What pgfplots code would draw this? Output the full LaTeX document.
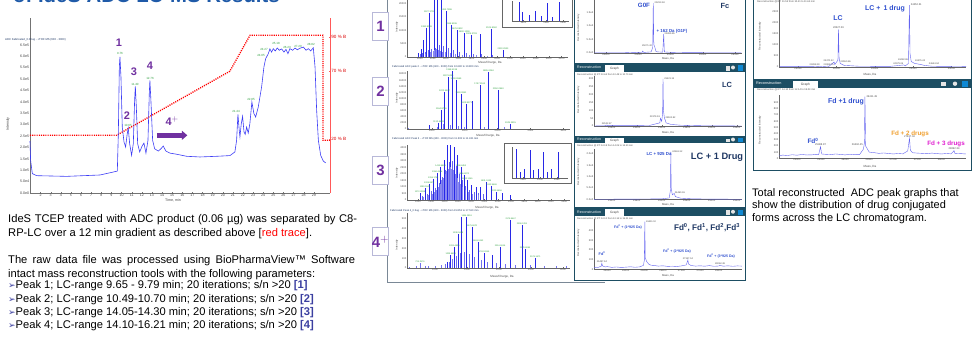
\documentclass[border=0pt]{standalone}
\usepackage{fontspec}
\setmainfont{Liberation Sans}
\newfontfamily\dejavu{DejaVu Sans}
\usepackage{pgfplots}
\pgfplotsset{compat=1.18}
\usetikzlibrary{arrows.meta}
\definecolor{trace}{HTML}{3C3CF5}
\definecolor{purp}{HTML}{7030A0}
\definecolor{grn}{HTML}{2E9E3E}
\definecolor{tealb}{HTML}{1D4E63}
\definecolor{navy}{HTML}{1F3864}
\definecolor{lblue}{HTML}{2F4FCF}
\definecolor{framec}{HTML}{7A8896}
\definecolor{titleblue}{HTML}{1F5AA8}
\definecolor{bulletc}{HTML}{3B3FA0}
\definecolor{orangec}{HTML}{F0A030}
\definecolor{magc}{HTML}{E020D0}
\definecolor{specblue}{HTML}{2828E6}
\definecolor{recblue}{HTML}{6464F0}
\definecolor{boxc}{HTML}{B8B8D8}
\newcommand{\fs}[1]{\fontsize{#1}{#1}\selectfont}
\newcommand{\glabs}[2]{\foreach \mz/\hh/\lb in {#2}{\edef\tmp{\noexpand\node[anchor=south, font=\noexpand\fs{#1}, text=grn, inner sep=0.4bp] at (axis cs:\mz,\hh) {\lb};}\tmp}}
\pgfplotsset{
 spec/.style={scale only axis, axis x line*=bottom, axis y line*=left, ymin=0,
  axis line style={black!60, line width=0.3bp}, tick style={black!60, line width=0.3bp},
  major tick length=0.8bp, tick label style={font=\fs{2.6}, text=black!70, inner sep=0.6bp},
  /pgf/number format/1000 sep={}, /pgf/number format/assume math mode=true,
  scaled ticks=false, clip mode=individual},
 stick/.style={ycomb, color=specblue, line width=0.45bp, no marks},
 rec/.style={sharp plot, color=recblue, line width=0.4bp, no marks},
}
\begin{document}
\begin{tikzpicture}
\path[use as bounding box] (0,0) rectangle (976bp,-339bp);
% ---------------- background frames -----------------
\begin{scope}[x=1bp,y=-1bp]
\node[anchor=base west, font=\fs{20.4}\bfseries, text=titleblue, inner sep=0] at (13,2.6) {of IdeS ADC LC-MS Results};
\draw[framec, line width=0.7bp] (387,-2) -- (387,282) -- (605,282);
\draw[framec, line width=0.7bp] (744,-2) -- (744,262);
\foreach \yy/\lb in {12/1,77/2,156/3,227/{4$^{+}$}}{
  \draw[boxc, fill=white, line width=0.8bp] (372,\yy) rectangle (388,\yy+28);
  \node[font=\fs{15}\bfseries, text=purp] at (380.5,\yy+14.5) {\lb};
}
\draw[black!60, fill=white, line width=0.4bp] (502,-2) rectangle (572,27);
\draw[black!60, fill=white, line width=0.4bp] (504,143) rectangle (571,183);
\node[anchor=west, font=\fs{2.6}, text=navy, inner sep=0] at (392,67) {Fabricated ADC peak 2 - +TOF MS (600 - 3000) from 10.690 to 10.800 min};
\node[anchor=west, font=\fs{2.6}, text=navy, inner sep=0] at (392,139) {Fabricated ADC Peak 3 - +TOF MS (600 - 3000) from 11.303 to 11.431 min};
\node[anchor=west, font=\fs{2.6}, text=navy, inner sep=0] at (390,211) {Fabricated Peak 4\_0.5ug - +TOF MS (600 - 3000) from 15.853 to 17.510 min};
\foreach \yy in {27,98,173,245}{\node[rotate=90, font=\fs{2.8}, text=black!70] at (397,\yy) {Intensity};}
\node[font=\fs{3}, text=black!70] at (490,63) {Mass/Charge, Da};
\node[font=\fs{3}, text=black!70] at (488,136) {Mass/Charge, Da};
\node[font=\fs{3}, text=black!70] at (487,208) {Mass/Charge, Da};
\node[font=\fs{3}, text=black!70] at (502,276.5) {Mass/Charge, Da};
\foreach \ya/\yb in {-3/63,63/136,136/207.5,207.5/280}{
  \draw[tealb, fill=white, line width=0.8bp] (574,\ya) rectangle (745,\yb);
}
\foreach \ya/\yb/\rt in {63/72/{10.64 from 10.48 to 10.70 min},136/143/{14.18 from 14.05 to 14.30 min},207.5/216/{14.10 from 12.14 to 15.21 min}}{
  \fill[tealb] (574,\ya) rectangle (745,\yb);
  \node[anchor=west, font=\fs{3.6}, text=white, inner sep=0] at (577,{(\ya+\yb)/2}) {Reconstruction};
  \fill[white] (605,\ya+1.5) rectangle (624,\yb);
  \node[font=\fs{3.2}, text=black!70] at (614.5,{(\ya+\yb)/2+0.7}) {Graph};
  \fill[white!80!gray] (726,\ya+2.5) rectangle (730,\yb-1.5);
  \fill[white!80!gray] (733,{(\ya+\yb)/2}) circle (2bp);
  \fill[cyan!70!blue] (738,\ya+2) rectangle (743,\yb-1);
  \node[anchor=west, font=\fs{2.4}, text=black!70, inner sep=0] at (577,\yb+2.3) {Reconstruction @ RT: \rt};
}
\foreach \yy in {28,100,172,243}{\node[rotate=90, font=\fs{2.6}, text=black!70] at (578.5,\yy) {Reconstructed Intensity};}
\foreach \yy in {59,133,205,276}{\node[font=\fs{2.8}, text=black!70] at (668,\yy) {Mass, Da};}
\draw[tealb, fill=white, line width=0.8bp] (753,-3) rectangle (971,79);
\draw[tealb, fill=white, line width=0.8bp] (753,79) rectangle (971,170);
\fill[tealb] (753,79.5) rectangle (971,87.5);
\node[anchor=west, font=\fs{3.8}, text=white, inner sep=0] at (756,83.5) {Reconstruction};
\fill[white] (793,81) rectangle (818,87.5);
\node[font=\fs{3.3}, text=black!70] at (805.5,84.5) {Graph};
\fill[white!80!gray] (941,81.5) rectangle (946,86);
\fill[white!80!gray] (955,83.7) circle (2.2bp);
\fill[cyan!70!blue] (962,81) rectangle (968,87);
\node[anchor=west, font=\fs{2.5}, text=black!70, inner sep=0] at (757,90) {Reconstruction @ RT: 14.10 from 12.14 to 15.03 min};
\node[anchor=west, font=\fs{2.5}, text=black!70, inner sep=0] at (757,1.5) {Reconstruction @ RT: 11.53 from 10.41 to 11.62 min};
\node[rotate=90, font=\fs{2.7}, text=black!70] at (760,36) {Reconstructed Intensity};
\node[rotate=90, font=\fs{2.7}, text=black!70] at (760,130) {Reconstructed Intensity};
\node[font=\fs{3}, text=black!70] at (870,75) {Mass, Da};
\node[font=\fs{3}, text=black!70] at (870,167) {Mass, Da};
\end{scope}

% ---------------- chromatogram -----------------
\begin{axis}[at={(30bp,-193bp)}, anchor=south west, scale only axis, width=300bp, height=175bp,
 xmin=0.95, xmax=30.6, ymin=0, ymax=767500,
 axis x line*=bottom, axis y line*=left, scaled ticks=false,
 axis line style={black!55, line width=0.4bp}, tick style={black!55, line width=0.3bp}, major tick length=1.3bp,
 xtick={2,...,29},
 ytick={0,50000,100000,150000,200000,250000,300000,350000,400000,450000,500000,550000,600000,650000},
 yticklabels={0.0e0,5.0e4,1.0e5,1.5e5,2.0e5,2.5e5,3.0e5,3.5e5,4.0e5,4.5e5,5.0e5,5.5e5,6.0e5,6.5e5},
 tick label style={font=\fs{3.6}, text=black!75, inner sep=0.8bp},
 /pgf/number format/assume math mode=true, clip=false]
\addplot[red, line width=1.3bp, dash pattern=on 1.1bp off 1.1bp] coordinates {
(0.95,253000)(9.5,253000)(20.7,534000)(22.7,692000)(29.9,692000)(29.9,231000)(30.6,231000)};
\addplot[trace, line width=0.6bp] coordinates {
(0.95,228000)(1.01,143000)(1.18,85000)(1.61,76000)(4.57,73000)(7.87,79000)(9.18,92000)(9.58,96000)
(9.68,260000)(9.78,553000)(9.84,597000)(9.94,509000)(10.07,289000)(10.24,224000)(10.4,202000)
(10.56,260000)(10.66,285000)(10.8,216000)(10.99,165000)(11.16,216000)(11.29,406000)(11.36,468000)
(11.46,377000)(11.59,216000)(11.79,180000)(12.02,205000)(12.21,219000)(12.41,175000)(12.61,231000)
(12.74,436000)(12.8,494000)(12.9,406000)(13.07,231000)(13.27,194000)(13.63,184000)(13.89,194000)
(14.12,206000)(14.38,184000)(14.78,175000)(15.44,170000)(16.43,161000)(17.75,158000)(19.39,161000)
(20.71,164000)(21.2,180000)(21.37,231000)(21.5,345000)(21.63,275000)(21.7,246000)(21.83,304000)
(21.96,336000)(22.1,268000)(22.22,257000)(22.36,289000)(22.52,263000)(22.68,304000)(22.88,399000)
(23.08,348000)(23.25,333000)(23.51,377000)(23.84,465000)(24.07,553000)(24.24,589000)(24.5,611000)
(24.66,632000)(24.83,618000)(24.99,633000)(25.19,623000)(25.39,636000)(25.59,626000)(25.82,632000)
(26.05,618000)(26.25,630000)(26.44,611000)(26.64,633000)(26.91,626000)(27.14,636000)(27.37,628000)
(27.63,635000)(27.97,640000)(28.23,626000)(28.46,633000)(28.69,623000)(28.95,637000)(29.12,553000)
(29.28,363000)(29.45,231000)(29.68,165000)(29.94,140000)(30.17,132000)};
\node[font=\fs{11}\bfseries, text=purp] at (axis cs:9.74,657000) {1};
\node[font=\fs{11}\bfseries, text=purp] at (axis cs:10.53,341000) {2};
\node[font=\fs{11}\bfseries, text=purp] at (axis cs:11.23,534000) {3};
\node[font=\fs{11}\bfseries, text=purp] at (axis cs:12.81,560000) {4};
\node[font=\fs{11}\bfseries, text=purp] at (axis cs:15.0,314000) {4$^{+}$};
\draw[purp, line width=4.5bp, -{Triangle[length=5.5bp,width=9bp]}] (axis cs:13.5,253000) -- (axis cs:16.5,253000);
\end{axis}
\begin{axis}[at={(30bp,-193bp)}, anchor=south west, scale only axis, width=300bp, height=175bp,
 xmin=0.95, xmax=30.6, ymin=0, ymax=767500, axis x line=none, axis y line*=right, scaled ticks=false,
 axis line style={red!65, line width=0.6bp}, tick style={red!65, line width=0.4bp}, major tick length=1.5bp,
 ytick={236000,534000,683000}, yticklabels={20 \% B,70 \% B,90 \% B},
 tick label style={font=\fs{4.6}, text=red!85!black, inner sep=1.2bp}]
\addplot[draw=none] coordinates {(5,1000)};
\end{axis}
\begin{scope}[x=1bp,y=-1bp]
\node[anchor=west, font=\fs{2.8}, text=navy, inner sep=0] at (5,40) {ADC Fabricated\_0.06ug - +TOF MS (600 - 3000)};
\node[rotate=90, font=\fs{3.6}, text=black!75] at (8,124) {Intensity};
\node[font=\fs{3.6}, text=black!75] at (173,200.5) {Time, min};
\foreach \xx/\yy/\lb in {120/53/9.76,128/125/10.65,135/84/11.40,150/78/12.76,236/111/21.44,251/99/22.85,261/55/24.05,264/49/24.27,276/43/25.18,287/47/26.23,298/46/27.20,311/44/28.82}{
  \node[font=\fs{3}, text=grn, inner sep=0] at (\xx,\yy) {\lb};}
\node[anchor=base west, font=\fs{11.2}, inner sep=0] at (8,222) {\makebox[349bp][s]{IdeS TCEP treated with ADC product (0.06 µg) was separated by C8-}};
\node[anchor=base west, font=\fs{11.2}, inner sep=0] at (8,236) {RP-LC over a 12 min gradient as described above [\textcolor{red}{red trace}].};
\node[anchor=base west, font=\fs{11.2}, inner sep=0] at (8,263.7) {\makebox[347bp][s]{The raw data file was processed using BioPharmaView™ Software}};
\node[anchor=base west, font=\fs{11.2}, inner sep=0] at (8,277.7) {intact mass reconstruction tools with the following parameters:};
\foreach \yy/\lb/\nn in {288.7/{Peak 1; LC-range 9.65 - 9.79 min; 20 iterations; s/n >20}/1,
  302/{Peak 2; LC-range 10.49-10.70 min; 20 iterations; s/n >20}/2,
  315.4/{Peak 3; LC-range 14.05-14.30 min; 20 iterations; s/n >20}/3,
  328.7/{Peak 4; LC-range 14.10-16.21 min; 20 iterations; s/n >20}/4}{
  \node[anchor=base west, font=\fs{11.2}, inner sep=0] at (8,\yy) {{\dejavu\fs{9}\color{bulletc}➢}\lb{} \textbf{\color{bulletc}[\nn]}};}
\node[anchor=base west, font=\fs{11}, inner sep=0] at (752,196.5) {Total reconstructed\ \ ADC peak graphs that};
\node[anchor=base west, font=\fs{11}, inner sep=0] at (752,208.8) {show the distribution of drug conjugated};
\node[anchor=base west, font=\fs{11}, inner sep=0] at (752,221.1) {forms across the LC chromatogram.};
\end{scope}

% ---------------- middle column spectra -----------------
\begin{axis}[spec, at={(407bp,-57bp)}, anchor=south west, width=161bp, height=61.2bp,
 xmin=800, xmax=3300, ymax=23000, xtick={1000,1200,...,3200}, ytick={0,5000,10000,15000,20000}]
\addplot[stick] coordinates {(974,1500)(1016,3000)(1052,6500)(1103,10900)(1145,16500)(1217,23000)(1274,23000)(1331,23000)(1413,17100)(1491,12100)(1579,10250)(1688,9000)(1801,8400)(1940,8750)(2111,10500)(2292,2750)};
\addplot[stick, color=specblue!70] coordinates {(1000,1000)(1035,1500)(1080,2000)(1125,2500)(1180,3000)(1245,3500)(1300,4500)(1360,4000)(1440,3500)(1520,2800)(1610,2000)(1720,1500)(1830,1200)(1960,1000)(2130,800)};
\addplot[stick, color=specblue!55] coordinates {(1090,1200)(1160,1800)(1200,2200)(1230,2800)(1260,3000)(1290,2600)(1320,2400)(1345,2000)(1390,1800)(1470,1500)(1555,1200)(1650,900)(1760,700)(1880,600)(2050,500)};
\glabs{2.3}{1103/10900/1380.8098,1145/16500/1327.3702,1413/17100/1493.7286,1491/12100/1588.9336,1579/10250/1676.0832,1688/9000/1800.1238,1801/8400/1909.3793,2111/10500/2105.8062,2292/2750/2330.2933}
\end{axis}
\begin{axis}[spec, at={(512bp,-21bp)}, anchor=south west, width=57bp, height=20bp,
 xmin=1300, xmax=1400, ymax=1, xtick={1320,1360,1390}, ytick=\empty]
\addplot[stick] coordinates {(1312,0.95)(1318,0.45)(1330,0.3)(1341,0.5)(1352,0.25)(1362,0.9)(1370,0.2)(1383,0.95)};
\end{axis}

\begin{axis}[spec, at={(407bp,-129bp)}, anchor=south west, width=163bp, height=58bp,
 xmin=625, xmax=3100, ymax=19000, xtick={1000,1500,2000,2500,3000}, ytick={0,2000,...,18000}]
\addplot[stick] coordinates {(959,1300)(1105,2000)(1146,6200)(1195,12200)(1250,16900)(1305,19000)(1370,16000)(1446,11350)(1530,8100)(1620,9260)(1731,14400)(1860,18750)(2011,12760)(2197,1640)};
\addplot[stick, color=specblue!60] coordinates {(650,300)(1080,800)(1170,1500)(1280,1200)(1400,900)(1500,700)(1800,600)(2100,500)};
\glabs{2.3}{1105/2000/1112.6683,1146/6200/1164.8746,1195/12200/1222.5637,1250/16900/1287.6081,1305/19000/1358.6138,1370/16000/1438.0969,1446/11350/1528.0951,1530/8100/1629.9273,1731/14400/1747.3163,1860/18750/1885.0064,2011/12760/2050.0963,2197/1640/2245.3815}
\end{axis}

\begin{axis}[spec, at={(407bp,-200bp)}, anchor=south west, width=163bp, height=55bp,
 xmin=835, xmax=3286, ymax=4230, xtick={1000,1200,...,3200}, ytick={0,500,...,4000}]
\addplot[stick] coordinates {(1030,540)(1105,920)(1170,1230)(1230,1590)(1290,2050)(1341,2560)(1391,3080)(1441,4400)(1491,4300)(1541,4100)(1597,3460)(1647,2560)(1692,1920)(1742,1540)(1807,1150)(1882,1020)(1942,1000)(2023,1410)(2108,1080)(2183,640)(2273,540)(2383,420)};
\addplot[stick, color=specblue!70] coordinates {(1060,300)(1135,500)(1200,700)(1260,900)(1315,1300)(1366,1800)(1416,2300)(1466,2900)(1516,3000)(1568,2600)(1622,2000)(1670,1500)(1717,1100)(1775,800)(1845,600)(1912,550)(1980,500)};
\addplot[stick, color=specblue!55] coordinates {(1085,200)(1150,350)(1215,500)(1245,650)(1275,800)(1305,1000)(1328,1200)(1354,1500)(1378,1700)(1404,2000)(1428,2200)(1454,2400)(1478,2500)(1504,2400)(1528,2300)(1555,2000)(1583,1700)(1610,1400)(1635,1200)(1658,1000)(1705,800)(1757,600)(1820,450)(1900,380)};
\glabs{2.2}{1030/540/1272.8098,1105/920/1299.1049,1170/1230/1326.8872,1230/1590/1355.1754,1290/2050/1384.4566,1341/2560/1413.8866,1647/2560/1598.8453,1692/1920/1656.8072,1742/1540/1692.1265,2023/1410/1801.5319,2108/1080/1912.9486,2183/640/2020.5656}
\end{axis}
\begin{axis}[spec, at={(512bp,-178bp)}, anchor=south west, width=56bp, height=31bp,
 xmin=1400, xmax=1500, ymax=1, xtick={1420,1450,1480}, ytick=\empty]
\addplot[stick] coordinates {(1408,0.95)(1414,0.2)(1422,0.3)(1432,0.9)(1438,0.25)(1446,0.3)(1456,0.85)(1462,0.2)(1470,0.3)(1483,0.85)};
\end{axis}

\begin{axis}[spec, at={(407bp,-268bp)}, anchor=south west, width=163bp, height=55bp,
 xmin=562, xmax=3109, ymax=561, xtick={1000,1500,2000,2500,3000}, ytick={0,100,...,500}]
\addplot[stick, color=specblue!65] coordinates {(600,15)(700,20)(766,48)(850,18)(900,20)(1000,25)(1100,30)(1160,40)(1220,60)(1275,90)(1330,120)(1390,150)(1450,160)(1530,140)(1620,110)(1720,80)(1820,60)(1950,50)(2100,40)(2250,35)(2480,30)(2700,25)(2900,20)(3050,20)};
\addplot[stick] coordinates {(1193,64)(1245,133)(1302,211)(1359,347)(1417,517)(1495,524)(1578,421)(1672,268)(1766,150)(1886,133)(2016,217)(2182,490)(2359,439)(2406,190)(2567,99)};
\glabs{2.2}{766/48/724.2576,1245/133/1229.8659,1302/211/1281.4805,1359/347/1338.5658,1495/524/1496.0918,1578/421/1575.8670,1672/268/1663.2462,1766/150/1762.2655,2016/217/2016.0616,2182/490/2175.8667,2359/439/2359.5761,2406/190/2378.8064,2567/99/2575.1671}
\end{axis}

% ---------------- column 3 reconstructions -----------------
\begin{axis}[spec, at={(594bp,-52.7bp)}, anchor=south west, width=148bp, height=54bp,
 xmin=24315, xmax=26608, ymax=20300, xtick={24500,25000,...,26500},
 ytick={0,5000,10000,15000}, yticklabels={0.0e0,5.0e3,1.0e4,1.5e4}]
\addplot[rec] coordinates {(24320,0)(24800,0)(24950,150)(25000,0)(25060,100)(25071,600)(25085,100)(25200,300)(25225,2000)(25233,18680)(25242,3000)(25255,2250)(25275,500)(25300,300)(25380,200)(25395,7030)(25405,300)(25450,200)(25560,100)(25700,50)(26000,0)(26600,0)};
\node[anchor=west, font=\fs{2.4}, text=black!70, inner sep=0.5bp] at (axis cs:25245,18680) {25233.94};
\node[anchor=west, font=\fs{2.4}, text=black!70, inner sep=0.5bp] at (axis cs:25400,7030) {25395.85};
\node[anchor=east, font=\fs{2.4}, text=black!70, inner sep=0.5bp] at (axis cs:25225,2600) {25071.42};
\end{axis}
\begin{axis}[spec, at={(594bp,-126bp)}, anchor=south west, width=148bp, height=50bp,
 xmin=22317, xmax=24685, ymax=318, xtick={22600,23000,...,24600}, ytick={0,50,...,300}]
\addplot[rec] coordinates {(22320,0)(22500,2)(22521,6)(22540,2)(23200,3)(23370,20)(23379,49)(23400,30)(23415,80)(23421,300)(23428,100)(23445,45)(23453,43)(23470,20)(23550,10)(23700,5)(24000,2)(24680,0)};
\node[anchor=west, font=\fs{2.4}, text=black!70, inner sep=0.5bp] at (axis cs:23430,300) {23421.13};
\node[anchor=south, font=\fs{2.4}, text=black!70, inner sep=0.5bp] at (axis cs:22521,6) {22522.87};
\node[anchor=south east, font=\fs{2.4}, text=black!70, inner sep=0.3bp] at (axis cs:23379,49) {23379.18};
\node[anchor=south west, font=\fs{2.4}, text=black!70, inner sep=0.3bp] at (axis cs:23453,43) {23532.82};
\end{axis}
\begin{axis}[spec, at={(594bp,-199.3bp)}, anchor=south west, width=148bp, height=50bp,
 xmin=23117, xmax=25485, ymax=2212, xtick={23400,23800,...,25400},
 ytick={0,500,1000,1500,2000}, yticklabels={0.0e0,5.0e2,1.0e3,1.5e3,2.0e3}]
\addplot[rec] coordinates {(23120,0)(23800,10)(24200,20)(24320,60)(24340,400)(24346,2100)(24352,500)(24370,200)(24400,260)(24420,120)(24500,50)(24700,20)(25000,10)(25480,0)};
\node[anchor=west, font=\fs{2.4}, text=black!70, inner sep=0.5bp] at (axis cs:24360,2100) {24461.32};
\node[anchor=west, font=\fs{2.4}, text=black!70, inner sep=0.5bp] at (axis cs:24400,300) {24460.36};
\end{axis}
\begin{axis}[spec, at={(594bp,-269.3bp)}, anchor=south west, width=148bp, height=50bp,
 xmin=25318, xmax=28501, ymax=515, xtick={25600,26000,...,28000}, ytick={0,100,...,400}]
\addplot[rec] coordinates {(25320,15)(25360,22)(25400,18)(25440,26)(25470,30)(25487,62)(25500,35)(25560,24)(25600,28)(25700,20)(25800,24)(25900,19)(26000,22)(26100,26)(26200,21)(26300,25)(26380,40)(26400,90)(26411,490)(26420,120)(26450,80)(26500,50)(26550,42)(26600,40)(26700,33)(26800,36)(26900,30)(27000,32)(27100,29)(27200,35)(27300,45)(27320,70)(27337,96)(27350,55)(27400,40)(27500,33)(27600,36)(27700,32)(27800,38)(27900,31)(28000,34)(28028,40)(28100,32)(28200,36)(28300,31)(28400,35)(28500,33)};
\node[anchor=west, font=\fs{2.4}, text=black!70, inner sep=0.5bp] at (axis cs:26425,490) {26411.10};
\node[anchor=south, font=\fs{2.4}, text=black!70, inner sep=0.5bp] at (axis cs:25487,62) {25487.94};
\node[anchor=south, font=\fs{2.4}, text=black!70, inner sep=0.5bp] at (axis cs:27337,96) {27337.04};
\node[anchor=south, font=\fs{2.4}, text=black!70, inner sep=0.5bp] at (axis cs:28028,40) {28262.48};
\end{axis}

% ---------------- column 4 reconstructions -----------------
\begin{axis}[spec, at={(779bp,-66.7bp)}, anchor=south west, width=187.4bp, height=68bp,
 xmin=22752, xmax=25195, ymax=3090, xtick={23000,23500,...,25000}, ytick={0,500,...,2500}]
\addplot[rec] coordinates {(22760,0)(23200,5)(23289,20)(23300,5)(23389,25)(23400,10)(23470,213)(23480,100)(23520,300)(23527,1700)(23535,400)(23550,150)(23600,60)(23800,20)(24200,15)(24379,80)(24400,40)(24440,150)(24452,2800)(24460,600)(24475,250)(24483,220)(24520,150)(24600,100)(24645,60)(24750,20)(25190,5)};
\node[anchor=south, font=\fs{2.6}, text=black!70, inner sep=0.5bp] at (axis cs:23527,1700) {23527.29};
\node[anchor=west, font=\fs{2.6}, text=black!70, inner sep=0.5bp] at (axis cs:24462,2800) {24452.31};
\node[anchor=south east, font=\fs{2.4}, text=black!70, inner sep=0.3bp] at (axis cs:23289,20) {23288.90};
\node[anchor=south, font=\fs{2.4}, text=black!70, inner sep=0.3bp] at (axis cs:23400,30) {23388.75};
\node[anchor=south east, font=\fs{2.4}, text=black!70, inner sep=0.3bp] at (axis cs:23470,213) {23470.32};
\node[anchor=south west, font=\fs{2.4}, text=black!70, inner sep=0.3bp] at (axis cs:23550,150) {23550.86};
\node[anchor=south east, font=\fs{2.4}, text=black!70, inner sep=0.3bp] at (axis cs:24440,250) {24482.86};
\node[anchor=east, font=\fs{2.4}, text=black!70, inner sep=0.3bp] at (axis cs:24379,120) {24379.06};
\node[anchor=south west, font=\fs{2.4}, text=black!70, inner sep=0.3bp] at (axis cs:24520,200) {24475.42};
\node[anchor=south west, font=\fs{2.4}, text=black!70, inner sep=0.3bp] at (axis cs:24700,60) {24644.94};
\end{axis}
\begin{axis}[spec, at={(779bp,-158.3bp)}, anchor=south west, width=187.4bp, height=63bp,
 xmin=24626, xmax=28519, ymax=1019, xtick={25000,25500,...,28000}, ytick={0,100,...,900}]
\addplot[rec] coordinates {(24630,40)(24700,52)(24800,45)(24900,58)(25000,50)(25100,62)(25200,54)(25300,55)(25400,65)(25450,60)(25489,188)(25510,70)(25600,64)(25700,60)(25800,70)(26000,55)(26100,66)(26200,58)(26300,60)(26380,150)(26400,250)(26411,996)(26425,200)(26462,150)(26500,100)(26600,92)(26700,80)(26800,86)(27000,70)(27100,78)(27200,72)(27300,120)(27337,324)(27355,130)(27400,90)(27500,84)(27600,80)(27700,75)(27800,84)(28000,70)(28100,78)(28200,72)(28262,123)(28280,80)(28400,76)(28510,70)};
\node[anchor=west, font=\fs{2.6}, text=black!70, inner sep=0.5bp] at (axis cs:26430,996) {26411.49};
\node[anchor=south, font=\fs{2.6}, text=black!70, inner sep=0.5bp] at (axis cs:25489,188) {25488.87};
\node[anchor=east, font=\fs{2.6}, text=black!70, inner sep=0.5bp] at (axis cs:26380,220) {26462.45};
\node[anchor=south, font=\fs{2.6}, text=black!70, inner sep=0.5bp] at (axis cs:27337,324) {27337.04};
\node[anchor=south, font=\fs{2.6}, text=black!70, inner sep=0.5bp] at (axis cs:28262,123) {28262.34};
\end{axis}

% ---------------- overlay labels -----------------
\begin{scope}[x=1bp,y=-1bp]
\node[font=\fs{6.2}\bfseries, text=lblue] at (644,5) {G0F};
\node[font=\fs{7.5}\bfseries, text=navy] at (725,6) {Fc};
\node[font=\fs{4.4}\bfseries, text=lblue] at (672,31) {+ 162 Da (G1F)};
\node[font=\fs{7.5}\bfseries, text=navy] at (727,85) {LC};
\node[font=\fs{4.4}\bfseries, text=lblue] at (659,154) {LC + 925 Da};
\node[font=\fs{9.3}\bfseries, text=navy] at (717,157) {LC + 1 Drug};
\node[font=\fs{8.2}\bfseries, text=navy] at (707,228) {Fd\textsuperscript{0}, Fd\textsuperscript{1}, Fd\textsuperscript{2},Fd\textsuperscript{3}};
\node[font=\fs{3.6}\bfseries, text=lblue] at (628,227) {Fd\textsuperscript{0} + (1*925 Da)};
\node[font=\fs{3.6}\bfseries, text=lblue] at (677,251) {Fd\textsuperscript{0} + (2*925 Da)};
\node[font=\fs{3.6}\bfseries, text=lblue] at (721,256) {Fd\textsuperscript{0} + (3*925 Da)};
\node[font=\fs{3.8}\bfseries, text=lblue] at (602,254) {Fd\textsuperscript{0}};
\node[font=\fs{7}\bfseries, text=lblue] at (838,18) {LC};
\node[font=\fs{7}\bfseries, text=lblue] at (885,8.5) {LC +\ \,1 drug};
\node[font=\fs{7}\bfseries, text=lblue] at (846,102) {Fd +1 drug};
\node[font=\fs{6.5}\bfseries, text=lblue] at (813,141) {Fd\textsuperscript{0}};
\node[font=\fs{6.3}\bfseries, text=orangec] at (910,134) {Fd + 2 drugs};
\node[font=\fs{6.3}\bfseries, text=magc] at (946,144) {Fd + 3 drugs};
\end{scope}
\end{tikzpicture}
\end{document}
